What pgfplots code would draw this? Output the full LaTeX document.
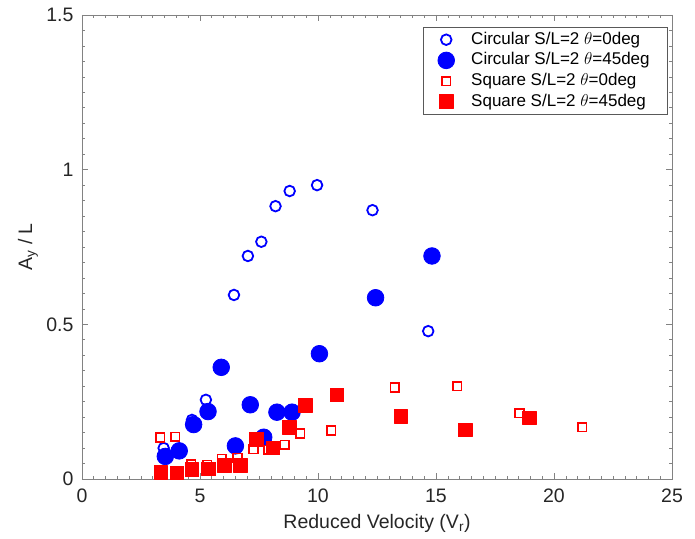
\documentclass[border=0pt]{standalone}
\usepackage{fontspec}
\setmainfont{Liberation Sans}
\usepackage{pgfplots}
\pgfplotsset{compat=1.18}
\definecolor{mblue}{RGB}{0,0,255}
\definecolor{mred}{RGB}{255,0,0}
\definecolor{axgray}{RGB}{130,130,130}
\pgfplotsset{mylegimg/.style={legend image code/.code={\path[draw=none,fill=none] (0bp,-1bp) rectangle (41bp,1bp);\draw[mark repeat=2,mark phase=2] plot coordinates {(0bp,0bp)(18bp,0bp)(36bp,0bp)};}}}

\begin{document}
\begin{tikzpicture}
\begin{axis}[
  at={(0,0)}, anchor=south west,
  scale only axis, width=590bp, height=464bp,
  xmin=0, xmax=25, ymin=0, ymax=1.5,
  xtick={0,5,10,15,20,25}, ytick={0,0.5,1,1.5},
  minor x tick num=9, minor y tick num=9,
  tick align=inside,
  major tick length=6bp, minor tick length=3.5bp,
  axis line style={axgray, line width=0.8bp},
  every tick/.style={axgray, line width=0.6bp},
  tick label style={font=\fontsize{19.5bp}{22bp}\selectfont, text=black!85},
  /pgf/number format/assume math mode=true,
  xticklabel style={yshift=-6.5bp},
  yticklabel style={xshift=-5bp},
  label style={font=\fontsize{19.5bp}{22bp}\selectfont, text=black!85},
  xlabel={Reduced Velocity (V\textsubscript{r})},
  ylabel={A\textsubscript{y} / L},
  xlabel style={at={(axis description cs:0.5,0)}, anchor=base, yshift=-49bp},
  ylabel style={at={(axis description cs:-0.0847,0.5)}, anchor=base},
  legend cell align=left,
  legend style={at={(rel axis cs:1,1)}, anchor=north east, xshift=-4bp, yshift=-12bp,
    draw=black!65, line width=0.7bp, fill=white,
    font=\fontsize{17bp}{20bp}\selectfont,
    inner xsep=5bp, inner ysep=2bp, row sep=0pt,
    nodes={text height=12.5bp, text depth=3.5bp, inner ysep=2.35bp}},
]
\addplot[only marks, mylegimg, mark=o, mark size=5.3bp, mblue, line width=1.8bp] coordinates {
(3.46,0.100) (4.66,0.191) (5.25,0.256) (6.44,0.595) (7.03,0.721) (7.60,0.767)
(8.20,0.882) (8.80,0.931) (9.96,0.950) (12.31,0.869) (14.67,0.478) (7.65,0.140)
};
\addlegendentry{Circular S/L=2 $\theta$=0deg}
\addplot[only marks, mylegimg, mark=*, mark size=8.3bp, mblue, line width=0.8bp, mark options={fill=mblue}] coordinates {
(3.53,0.073) (4.12,0.091) (4.73,0.176) (5.34,0.218) (5.90,0.361) (6.50,0.107)
(7.13,0.240) (7.70,0.135) (8.26,0.216) (8.90,0.216) (10.06,0.405) (12.44,0.586) (14.83,0.721)
};
\addlegendentry{Circular S/L=2 $\theta$=45deg\rule{11bp}{0pt}}
\addplot[only marks, mylegimg, mark=square, mark size=4.3bp, mred, line width=1.6bp] coordinates {
(3.32,0.134) (3.95,0.137) (4.62,0.048) (5.30,0.046) (5.93,0.065) (6.59,0.068)
(7.27,0.096) (7.90,0.095) (8.59,0.110) (9.25,0.147) (10.56,0.157) (13.25,0.296)
(15.89,0.300) (18.54,0.213) (21.20,0.168)
};
\addlegendentry{Square S/L=2 $\theta$=0deg}
\addplot[only marks, mylegimg, mark=square*, mark size=6.8bp, mred, line width=1bp, line join=round, mark options={fill=mred}] coordinates {
(3.35,0.021) (4.02,0.019) (4.66,0.030) (5.37,0.032) (6.03,0.043) (6.71,0.043)
(7.40,0.127) (8.09,0.100) (8.78,0.166) (9.46,0.237) (10.80,0.272) (13.52,0.202)
(16.24,0.159) (18.97,0.197)
};
\addlegendentry{Square S/L=2 $\theta$=45deg}
\end{axis}
\pgfresetboundingbox
\useasboundingbox (-82bp,-60bp) rectangle (613bp,479bp);
\end{tikzpicture}
\end{document}
